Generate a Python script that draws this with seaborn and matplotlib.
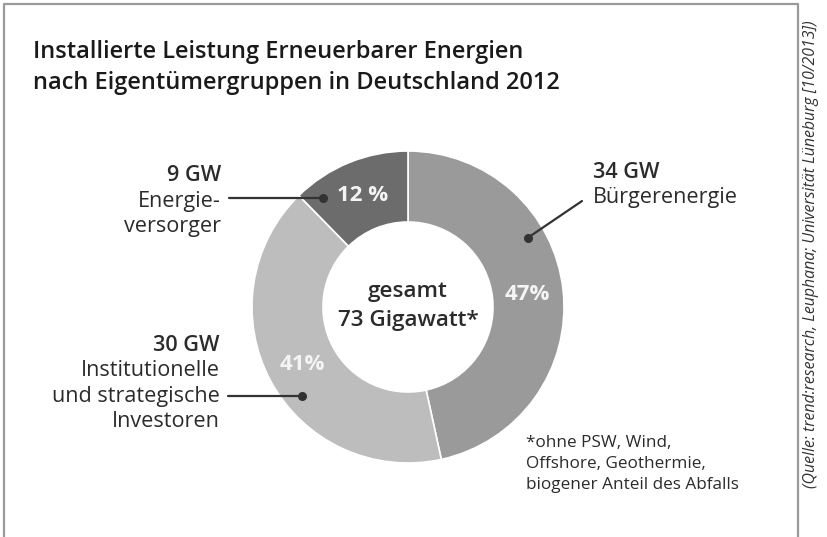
import numpy as np
import matplotlib
matplotlib.use("Agg")
from matplotlib import pyplot as plt
import seaborn as sns

# data
groups = ["Bürgerenergie", "Institutionelle und strategische Investoren", "Energieversorger"]
gigawatt = [34, 30, 9]
pct_labels = ["47%", "41%", "12 %"]
gw_labels = ["34 GW", "30 GW", "9 GW"]
name_lines = [["Bürgerenergie"],
              ["Institutionelle", "und strategische", "Investoren"],
              ["Energie-", "versorger"]]
total_lines = ["gesamt", "73 Gigawatt*"]
footnote_lines = ["*ohne PSW, Wind,", "Offshore, Geothermie,", "biogener Anteil des Abfalls"]
source = "(Quelle: trend:research, Leuphana; Universität Lüneburg [10/2013])"
title_lines = ["Installierte Leistung Erneuerbarer Energien",
               "nach Eigentümergruppen in Deutschland 2012"]

sns.set_theme(style="white")
plt.rcParams['font.family'] = ['Open Sans', 'DejaVu Sans']

colors = ["#9a9a9a", "#bdbdbd", "#6c6c6c"]
dark = "#2b2b2b"

fig = plt.figure(figsize=(8.28, 5.37), dpi=100)
ax = fig.add_axes([0, 0, 1, 1])

# donut (y axis is flipped below, so counterclock=True reads clockwise)
cx, cy, R = 408, 307, 156
wedges, texts = ax.pie(gigawatt, labels=pct_labels, colors=colors, startangle=-90,
                       counterclock=True, center=(cx, cy), radius=R, labeldistance=0.77,
                       wedgeprops=dict(width=71, edgecolor="white", linewidth=1.2),
                       textprops=dict(color="#f4f4f4", fontsize=16, fontweight="bold"))
for t in texts:
    t.set_ha("center")
    t.set_va("center")

ax.set_xlim(0, 828)
ax.set_ylim(537, 0)
ax.set_aspect("equal")
ax.axis("off")

# frame
ax.plot([4, 4, 798, 798], [537, 4, 4, 537], color="#9a9a9a", lw=1.6, clip_on=False)

# title
for i, ln in enumerate(title_lines):
    ax.text(33, 58 + 31 * i, ln, fontsize=17, fontweight="semibold", color="#1a1a1a",
            va="baseline", ha="left")

# centre text
for i, ln in enumerate(total_lines):
    ax.text(cx, 297 + 29 * i, ln, fontsize=16.2, fontweight="semibold", color=dark,
            ha="center", va="baseline")

# leader lines: dot angle (screen degrees) and line end
ann_angles = [30, -140, 128]
line_ends = [(582, 201), (228, None), (229, None)]
for ang, end in zip(ann_angles, line_ends):
    dx = cx + 138 * np.cos(np.radians(ang))
    dy = cy - 138 * np.sin(np.radians(ang))
    ex, ey = end[0], end[1] if end[1] is not None else dy
    ax.plot([dx, ex], [dy, ey], color="#333333", lw=1.6)
    ax.plot(dx, dy, "o", color="#333333", ms=5.5)

# label blocks: anchor x, first baseline, alignment
blocks = [(593, 178, "left"), (220, 351, "right"), (221, 181, "right")]
for (x, y, ha), gw, lines in zip(blocks, gw_labels, name_lines):
    ax.text(x, y, gw, fontsize=15.6, fontweight="semibold", color=dark, ha=ha, va="baseline")
    for i, ln in enumerate(lines):
        ax.text(x, y + 25.5 * (i + 1), ln, fontsize=15.6, color=dark, ha=ha, va="baseline")

# footnote
for i, ln in enumerate(footnote_lines):
    ax.text(526, 447 + 21 * i, ln, fontsize=12.3, color=dark, ha="left", va="baseline")

# source
ax.text(811, 254, source, fontsize=11.4, style="italic", color="#333333", rotation=90,
        ha="center", va="center")

fig.savefig("out.png", dpi=100, facecolor="white")
